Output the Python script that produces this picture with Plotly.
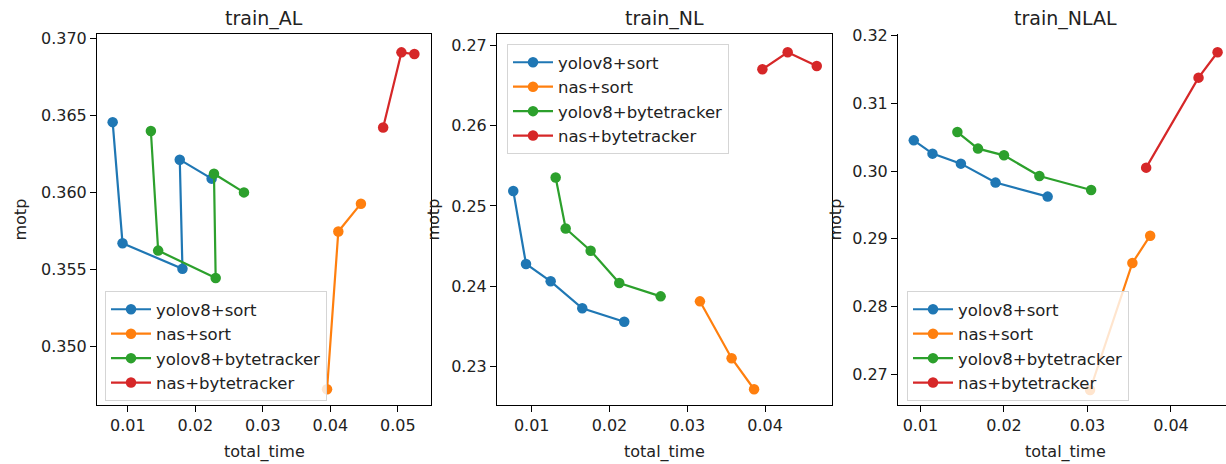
import plotly.graph_objects as go

# ---------------- data ----------------
series_names = ["yolov8+sort", "nas+sort", "yolov8+bytetracker", "nas+bytetracker"]
series_colors = ["#1f77b4", "#ff7f0e", "#2ca02c", "#d62728"]
panel_titles = ["train_AL", "train_NL", "train_NLAL"]

# train_AL
al_yolov8_sort_x = [0.00774, 0.00920, 0.01808, 0.01768, 0.02240]
al_yolov8_sort_y = [0.36455, 0.35671, 0.35505, 0.36212, 0.36089]
al_nas_sort_x = [0.03950, 0.04117, 0.04452]
al_nas_sort_y = [0.34725, 0.35747, 0.35927]
al_yolov8_byte_x = [0.01340, 0.01448, 0.02300, 0.02275, 0.02719]
al_yolov8_byte_y = [0.36398, 0.35623, 0.35446, 0.36121, 0.36000]
al_nas_byte_x = [0.04781, 0.05052, 0.05244]
al_nas_byte_y = [0.36420, 0.36907, 0.36896]

# train_NL
nl_yolov8_sort_x = [0.00763, 0.00927, 0.01244, 0.01650, 0.02190]
nl_yolov8_sort_y = [0.25187, 0.24278, 0.24062, 0.23726, 0.23559]
nl_nas_sort_x = [0.03163, 0.03570, 0.03859]
nl_nas_sort_y = [0.23813, 0.23105, 0.22719]
nl_yolov8_byte_x = [0.01308, 0.01437, 0.01758, 0.02126, 0.02658]
nl_yolov8_byte_y = [0.25354, 0.24719, 0.24443, 0.24041, 0.23875]
nl_nas_byte_x = [0.03966, 0.04291, 0.04665]
nl_nas_byte_y = [0.26701, 0.26913, 0.26742]

# train_NLAL
nlal_yolov8_sort_x = [0.00920, 0.01144, 0.01484, 0.01899, 0.02523]
nlal_yolov8_sort_y = [0.30453, 0.30257, 0.30109, 0.29829, 0.29622]
nlal_nas_sort_x = [0.03031, 0.03538, 0.03751]
nlal_nas_sort_y = [0.26764, 0.28641, 0.29044]
nlal_yolov8_byte_x = [0.01442, 0.01689, 0.02000, 0.02424, 0.03044]
nlal_yolov8_byte_y = [0.30576, 0.30331, 0.30232, 0.29926, 0.29719]
nlal_nas_byte_x = [0.03703, 0.04330, 0.04558]
nlal_nas_byte_y = [0.30050, 0.31380, 0.31755]

x_tick_vals = [0.01, 0.02, 0.03, 0.04, 0.05]
al_y_ticks = [0.350, 0.355, 0.360, 0.365, 0.370]
nl_y_ticks = [0.23, 0.24, 0.25, 0.26, 0.27]
nlal_y_ticks = [0.27, 0.28, 0.29, 0.30, 0.31, 0.32]

panels = [
    [(al_yolov8_sort_x, al_yolov8_sort_y), (al_nas_sort_x, al_nas_sort_y),
     (al_yolov8_byte_x, al_yolov8_byte_y), (al_nas_byte_x, al_nas_byte_y)],
    [(nl_yolov8_sort_x, nl_yolov8_sort_y), (nl_nas_sort_x, nl_nas_sort_y),
     (nl_yolov8_byte_x, nl_yolov8_byte_y), (nl_nas_byte_x, nl_nas_byte_y)],
    [(nlal_yolov8_sort_x, nlal_yolov8_sort_y), (nlal_nas_sort_x, nlal_nas_sort_y),
     (nlal_yolov8_byte_x, nlal_yolov8_byte_y), (nlal_nas_byte_x, nlal_nas_byte_y)],
]

# ---------------- layout geometry (pixels) ----------------
W, H = 1226, 464
FONT = "DejaVu Sans"
TXT = "#222222"
ax_left = [97, 497, 898]
ax_right = [431, 832, 1226]
ax_top, ax_bottom = 34, 405
x_ranges = [[0.00542, 0.0549], [0.00554, 0.04861], [0.00731, 0.04659]]
y_ranges = [[0.34623, 0.37026], [0.22523, 0.2714], [0.26542, 0.32025]]
y_ticks = [al_y_ticks, nl_y_ticks, nlal_y_ticks]
y_fmt = [".3f", ".2f", ".2f"]
ylabel_x = [20, 433, 835]
legend_pos = [(105, 291), (507, 44), (907, 291)]

fig = go.Figure()
for p, series in enumerate(panels):
    sfx = "" if p == 0 else str(p + 1)
    for (xs, ys), name, col in zip(series, series_names, series_colors):
        fig.add_trace(go.Scatter(
            x=xs, y=ys, name=name, mode="lines+markers",
            line=dict(color=col, width=2.2),
            marker=dict(color=col, size=10.5),
            xaxis="x" + sfx, yaxis="y" + sfx,
            legend="legend" + sfx,
        ))

layout = dict(
    width=W, height=H, autosize=False,
    margin=dict(l=0, r=0, t=0, b=0, pad=0),
    paper_bgcolor="white", plot_bgcolor="white",
    font=dict(family=FONT, size=16, color=TXT),
    annotations=[],
)
ydom = [(H - ax_bottom) / H, (H - ax_top) / H]
for p in range(3):
    sfx = "" if p == 0 else str(p + 1)
    xdom = [ax_left[p] / W, min(1.0, ax_right[p] / W)]
    mirror = p < 2
    layout["xaxis" + sfx] = dict(
        domain=xdom, range=x_ranges[p], anchor="y" + sfx,
        tickvals=x_tick_vals, tickformat=".2f",
        showgrid=False, zeroline=False, automargin=False,
        showline=True, linecolor="black", linewidth=1, mirror=mirror,
        ticks="outside", ticklen=6, tickwidth=1, tickcolor="black",
        tickfont=dict(family=FONT, size=16, color=TXT),
    )
    layout["yaxis" + sfx] = dict(
        domain=ydom, range=y_ranges[p], anchor="x" + sfx,
        tickvals=y_ticks[p], tickformat=y_fmt[p],
        showgrid=False, zeroline=False, automargin=False,
        showline=True, linecolor="black", linewidth=1, mirror=mirror,
        ticks="outside", ticklen=6, tickwidth=1, tickcolor="black",
        tickfont=dict(family=FONT, size=16, color=TXT),
    )
    if not mirror:
        # top border of the last panel (its right edge lies outside the picture)
        layout["xaxis4"] = dict(
            domain=xdom, range=x_ranges[p], anchor="y3", overlaying="x3",
            side="top", showline=True, linecolor="black", linewidth=1,
            showticklabels=False, ticks="", showgrid=False, zeroline=False,
            automargin=False,
        )
    cx = (xdom[0] + ax_right[p] / W) / 2 if p < 2 else (ax_left[p] + 335 / 2) / W
    layout["annotations"].append(dict(
        text=panel_titles[p], xref="paper", yref="paper",
        x=cx, y=ydom[1], xanchor="center", yanchor="bottom", yshift=2,
        showarrow=False, font=dict(family=FONT, size=19, color=TXT)))
    layout["annotations"].append(dict(
        text="total_time", xref="paper", yref="paper",
        x=cx, y=(H - 452) / H, xanchor="center", yanchor="middle",
        showarrow=False, font=dict(family=FONT, size=16, color=TXT)))
    layout["annotations"].append(dict(
        text="motp", xref="paper", yref="paper", textangle=-90,
        x=ylabel_x[p] / W, y=(ydom[0] + ydom[1]) / 2,
        xanchor="center", yanchor="middle",
        showarrow=False, font=dict(family=FONT, size=16, color=TXT)))
    lx, ly = legend_pos[p]
    layout["legend" + sfx] = dict(
        x=lx / W, y=(H - ly) / H, xanchor="left", yanchor="top",
        xref="paper", yref="paper",
        bgcolor="rgba(255,255,255,0.8)", bordercolor="#d5d5d5", borderwidth=1,
        font=dict(family=FONT, size=16.5, color=TXT),
        tracegroupgap=0, itemwidth=40,
    )

fig.update_layout(**layout)
fig.write_html(
    "out.html",
    config={"displayModeBar": False},
    post_script="document.body.style.margin='0';document.body.style.overflow='hidden';",
)
